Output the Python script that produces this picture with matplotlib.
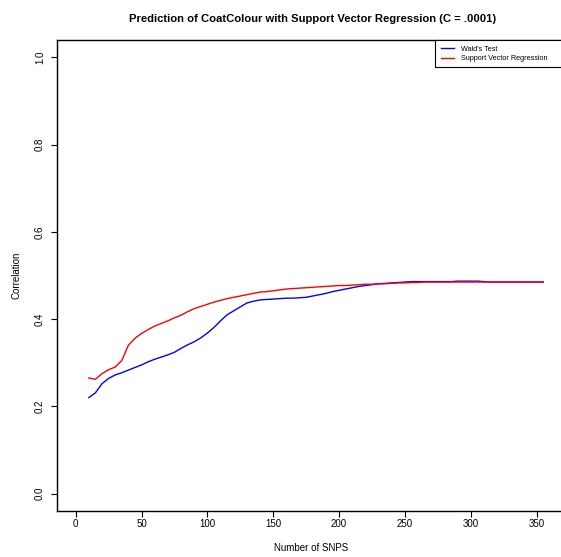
import matplotlib
matplotlib.use("Agg")
import matplotlib.pyplot as plt
from matplotlib.patches import Rectangle

plt.rcParams['font.family'] = ['Liberation Sans', 'DejaVu Sans']

# number of SNPs used
snps = list(range(10, 360, 5))

# correlation, Wald's test ranking
wald = [0.220, 0.231, 0.252, 0.264, 0.272, 0.277, 0.283, 0.289, 0.295, 0.302,
        0.308, 0.313, 0.318, 0.324, 0.333, 0.341, 0.348, 0.357, 0.368, 0.381,
        0.396, 0.410, 0.419, 0.428, 0.437, 0.441, 0.444, 0.445, 0.446, 0.447,
        0.448, 0.448, 0.449, 0.450, 0.453, 0.456, 0.459, 0.463, 0.466, 0.469,
        0.472, 0.475, 0.477, 0.479, 0.481, 0.482, 0.483, 0.484, 0.485, 0.486,
        0.486, 0.486, 0.486, 0.486, 0.486, 0.486, 0.487, 0.487, 0.487, 0.487,
        0.486, 0.485, 0.485, 0.485, 0.485, 0.485, 0.485, 0.485, 0.485, 0.485]

# correlation, support vector regression
svr = [0.265, 0.262, 0.275, 0.284, 0.290, 0.305, 0.340, 0.356, 0.367, 0.376,
       0.384, 0.390, 0.396, 0.403, 0.409, 0.417, 0.424, 0.429, 0.434, 0.439,
       0.443, 0.447, 0.450, 0.453, 0.456, 0.459, 0.462, 0.463, 0.465, 0.467,
       0.469, 0.470, 0.471, 0.472, 0.473, 0.474, 0.475, 0.476, 0.477, 0.477,
       0.478, 0.479, 0.480, 0.480, 0.481, 0.481, 0.482, 0.483, 0.483, 0.484,
       0.484, 0.485, 0.485, 0.485, 0.485, 0.485, 0.485, 0.485, 0.485, 0.485,
       0.485, 0.485, 0.485, 0.485, 0.485, 0.485, 0.485, 0.485, 0.485, 0.485]

W, H = 561, 557
fig = plt.figure(figsize=(W / 100, H / 100), dpi=100)
# plot region in pixels: left 57, right ~569 (past the edge), top 40, bottom 511
ax = fig.add_axes([56.7 / W, 1 - 511 / H, (568.8 - 56.7) / W, (511 - 40) / H])

ax.plot(snps, wald, color='#0000FF', lw=1, label="Wald's Test")
ax.plot(snps, svr, color='#FF0000', lw=1, label='Support Vector Regression')

ax.set_xlim(-14.4, 374.4)
ax.set_ylim(-0.04, 1.04)
ax.set_xticks(range(0, 351, 50))
ax.set_yticks([0.0, 0.2, 0.4, 0.6, 0.8, 1.0])
ax.set_yticklabels(['0.0', '0.2', '0.4', '0.6', '0.8', '1.0'])

for s in ax.spines.values():
    s.set_linewidth(1)
ax.tick_params(direction='out', length=4.5, width=0.8, labelsize=7)
ax.tick_params(axis='x', pad=1.5)
ax.tick_params(axis='y', pad=4)
for lab in ax.get_yticklabels():
    lab.set_rotation(90)
    lab.set_va('center')

ax.set_title('Prediction of CoatColour with Support Vector Regression (C = .0001)',
             fontsize=8.1, fontweight='bold', pad=13)
ax.set_xlabel('Number of SNPS', fontsize=7)
ax.xaxis.set_label_coords(0.4966, -0.068)
ax.set_ylabel('Correlation', fontsize=7)
ax.yaxis.set_label_coords(-0.068, 0.5)

# legend box: from x = 435 px to the right edge of the plot region, y 40..67 px
lx = (435 - 56.7) / 512.1
ly = (511 - 67) / 471
ax.add_patch(Rectangle((lx, ly), 1 - lx, 1 - ly, transform=ax.transAxes,
                       facecolor='white', edgecolor='black', lw=0.8,
                       clip_on=False, zorder=4))
leg = ax.legend(loc='upper left', bbox_to_anchor=(lx, 1),
                borderaxespad=0, fontsize=5.2, frameon=False,
                handlelength=1.9, handletextpad=0.9, borderpad=0.8,
                labelspacing=0.3)
leg.set_zorder(5)

fig.savefig('out.png', dpi=100)
